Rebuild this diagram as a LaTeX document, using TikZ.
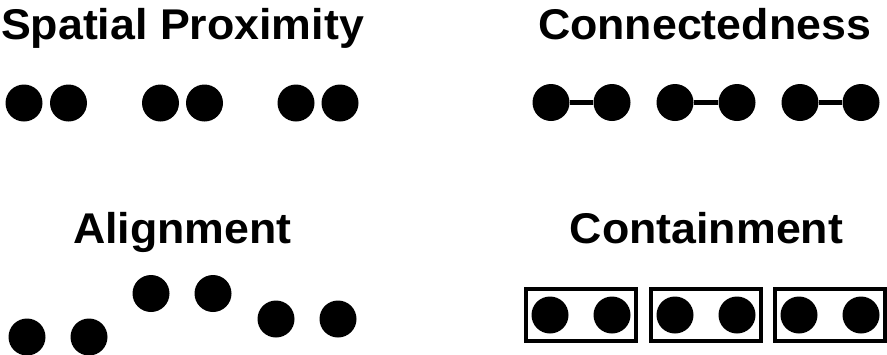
\documentclass[tikz,border=0pt]{standalone}
\usepackage{fontspec}
\setmainfont{Liberation Sans}
\usetikzlibrary{fit}
\begin{document}
\begin{tikzpicture}[x=1pt,y=-1pt,
  title/.style={anchor=base,font=\fontsize{43}{43}\selectfont\bfseries,inner sep=0,xscale=1.04},
  dot/.style={circle,fill=black,inner sep=0,minimum size=37pt},
  link/.style={line width=5pt},
  cbox/.style={draw,line width=4pt,inner xsep=5.5pt,inner ysep=7pt}]
\useasboundingbox (0,0) rectangle (887,354);
% titles
\node[title] (t1) at (182.5,39) {Spatial Proximity};
\node[title] (t2) at (704.5,39) {Connectedness};
\node[title] (t3) at (182.5,243) {Alignment};
\node[title] (t4) at (706.5,243) {Containment};
% spatial proximity
\foreach \i/\x in {1/24,2/68.5,3/160.5,4/204.5,5/296,6/340}
  \node[dot] (p\i) at (\x,103) {};
% connectedness
\foreach \i/\x in {1/551,2/612,3/675,4/737,5/800,6/861}
  \node[dot] (c\i) at (\x,102.5) {};
\draw[link] (c1) -- (c2);
\draw[link] (c3) -- (c4);
\draw[link] (c5) -- (c6);
% alignment
\node[dot] (a1) at (27,337) {};
\node[dot] (a2) at (89,337) {};
\node[dot] (a3) at (151,293.5) {};
\node[dot] (a4) at (213,293.5) {};
\node[dot] (a5) at (276,319) {};
\node[dot] (a6) at (338,319) {};
% containment
\foreach \i/\x in {1/550,2/612,3/675,4/737,5/799,6/861}
  \node[dot] (k\i) at (\x,315) {};
\node[cbox,fit=(k1)(k2)] (b1) {};
\node[cbox,fit=(k3)(k4)] (b2) {};
\node[cbox,fit=(k5)(k6)] (b3) {};
\end{tikzpicture}
\end{document}
